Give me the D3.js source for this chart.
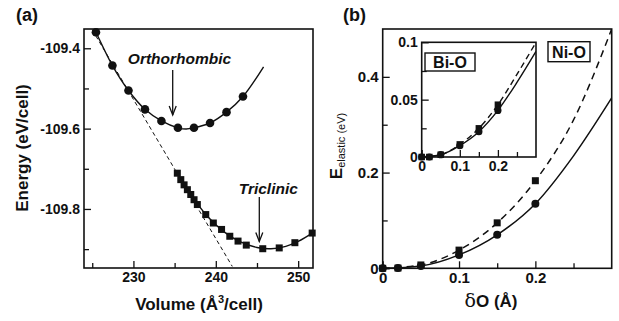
<!DOCTYPE html>
<html>
<head>
<meta charset="utf-8">
<script src="https://cdn.jsdelivr.net/npm/d3@7/dist/d3.min.js"></script>
<style>
body { margin: 0; background: #fff; }
svg text { font-family: "Liberation Sans", Arial, sans-serif; font-weight: bold; fill: #111; }
</style>
</head>
<body>
<script>
// panel (a): energy vs volume
var orthoV = [225.45, 227.45, 229.4, 231.4, 233.4, 235.4, 237.35, 239.3, 241.3, 243.3];
var orthoE = [-109.36, -109.443, -109.505, -109.552, -109.581, -109.598, -109.598, -109.586, -109.559, -109.52];
var orthoFitV = [225.3, 225.45, 227.45, 229.4, 231.4, 233.4, 235.4, 236.4, 237.35, 239.3, 241.3, 243.3, 245.8];
var orthoFitE = [-109.354, -109.36, -109.443, -109.505, -109.552, -109.581, -109.598, -109.601, -109.598, -109.586, -109.559, -109.52, -109.446];

var triV = [235.33, 235.75, 236.15, 236.55, 236.96, 237.36, 237.76, 238.78, 239.7, 240.7, 241.7, 242.7, 243.7, 245.7, 247.7, 249.6, 251.7];
var triE = [-109.711, -109.727, -109.740, -109.752, -109.764, -109.777, -109.789, -109.814, -109.835, -109.851, -109.868, -109.880, -109.890, -109.899, -109.897, -109.884, -109.860];
var triFitV = [235.33, 237, 239, 241, 243, 245, 246.7, 248.5, 250, 251.8];
var triFitE = [-109.711, -109.765, -109.819, -109.857, -109.882, -109.896, -109.899, -109.893, -109.881, -109.859];

var tangentV = [225.0, 242.0];
var tangentE = [-109.354, -109.943];

var volTicks = [230, 240, 250];
var volMinor = [225, 235, 245];
var enTicks = [-109.4, -109.6, -109.8];
var enMinor = [-109.5, -109.7, -109.9];

// panel (b): elastic energy vs oxygen displacement
var delta = [0, 0.02, 0.05, 0.1, 0.15, 0.2];
var niCircle = [0, 0.0005, 0.005, 0.028, 0.07, 0.135];
var niSquare = [0, 0.0005, 0.007, 0.038, 0.095, 0.183];
var biCircle = [0, 0, 0.002, 0.0099, 0.022, 0.0406];
var biSquare = [0, 0, 0.002, 0.011, 0.025, 0.0456];

var fitDelta = [0, 0.05, 0.1, 0.15, 0.2, 0.25, 0.3];
var niSolidFit = [0, 0.005, 0.028, 0.07, 0.135, 0.235, 0.356];
var niDashFit = [0, 0.007, 0.038, 0.095, 0.183, 0.31, 0.5];
var biSolidFit = [0, 0.002, 0.0099, 0.022, 0.0406, 0.065, 0.092];
var biDashFit = [0, 0.002, 0.011, 0.025, 0.0456, 0.072, 0.1];

var dTicks = [0, 0.1, 0.2];
var dMinor = [0.05, 0.15, 0.25];
var eTicks = [0, 0.2, 0.4];
var eMinor = [0.1, 0.3];
var insetYTicks = [0, 0.05, 0.1];
var insetYMinor = [0.025, 0.075];

var svg = d3.select("body").append("svg")
    .attr("width", 619)
    .attr("height", 321);

function zip(xs, ys) {
    return xs.map(function(x, i) { return [x, ys[i]]; });
}

// draws box + inward ticks, returns nothing
function frame(g, x, y, xt, xm, yt, ym, fx, fy, fs) {
    var x0 = x.range()[0], x1 = x.range()[1];
    var y0 = y.range()[0], y1 = y.range()[1];
    g.append("rect")
        .attr("x", x0).attr("y", y1)
        .attr("width", x1 - x0).attr("height", y0 - y1)
        .attr("fill", "#fff")
        .attr("stroke", "#111")
        .attr("stroke-width", 1.6);

    var ax = g.append("g").attr("transform", "translate(0," + y0 + ")")
        .call(d3.axisBottom(x).tickValues(xt).tickSize(-7).tickPadding(4).tickFormat(fx));
    g.append("g").attr("transform", "translate(0," + y0 + ")")
        .call(d3.axisBottom(x).tickValues(xm).tickSize(-5).tickFormat(""));
    var ay = g.append("g").attr("transform", "translate(" + x0 + ",0)")
        .call(d3.axisLeft(y).tickValues(yt).tickSize(-7).tickPadding(4).tickFormat(fy));
    g.append("g").attr("transform", "translate(" + x0 + ",0)")
        .call(d3.axisLeft(y).tickValues(ym).tickSize(-5).tickFormat(""));

    g.selectAll(".domain").remove();
    g.selectAll(".tick line").attr("stroke", "#111").attr("stroke-width", 1.3);
    ax.selectAll("text").attr("font-size", fs).attr("font-family", null).attr("fill", "#111");
    ay.selectAll("text").attr("font-size", fs).attr("font-family", null).attr("fill", "#111");
    return [ax, ay];
}

function arrow(g, cx, ytop, ybot) {
    g.append("line")
        .attr("x1", cx).attr("x2", cx)
        .attr("y1", ytop).attr("y2", ybot)
        .attr("stroke", "#111").attr("stroke-width", 1.3);
    g.append("path")
        .attr("d", "M" + (cx - 3.5) + "," + (ybot - 9) + "L" + cx + "," + ybot + "L" + (cx + 3.5) + "," + (ybot - 9))
        .attr("fill", "none").attr("stroke", "#111").attr("stroke-width", 1.3);
}

function circles(g, pts, x, y, r) {
    g.selectAll(null).data(pts).enter().append("circle")
        .attr("cx", function(d) { return x(d[0]); })
        .attr("cy", function(d) { return y(d[1]); })
        .attr("r", r)
        .attr("fill", "#111");
}

function squares(g, pts, x, y, s) {
    g.selectAll(null).data(pts).enter().append("rect")
        .attr("x", function(d) { return x(d[0]) - s / 2; })
        .attr("y", function(d) { return y(d[1]) - s / 2; })
        .attr("width", s).attr("height", s)
        .attr("fill", "#111");
}

// ---------- panel (a)
var xa = d3.scaleLinear().domain([224.0, 251.8]).range([84, 313]);
var ya = d3.scaleLinear().domain([-109.947, -109.352]).range([268, 29]);

var ga = svg.append("g");
frame(ga, xa, ya, volTicks, volMinor, enTicks, enMinor,
    function(d) { return d; },
    function(d) { return "-" + Math.abs(d).toFixed(1); }, "14px");

svg.append("clipPath").attr("id", "clipA").append("rect")
    .attr("x", 84).attr("y", 29).attr("width", 229).attr("height", 239);

var lineA = d3.line().x(function(d) { return xa(d[0]); }).y(function(d) { return ya(d[1]); });

ga.append("path")
    .attr("d", lineA(zip(tangentV, tangentE)))
    .attr("clip-path", "url(#clipA)")
    .attr("fill", "none").attr("stroke", "#111").attr("stroke-width", 1)
    .attr("stroke-dasharray", "4,3");

ga.append("path")
    .attr("d", lineA.curve(d3.curveCatmullRom)(zip(orthoFitV, orthoFitE)))
    .attr("clip-path", "url(#clipA)")
    .attr("fill", "none").attr("stroke", "#111").attr("stroke-width", 1.4);

ga.append("path")
    .attr("d", lineA.curve(d3.curveCatmullRom)(zip(triFitV, triFitE)))
    .attr("clip-path", "url(#clipA)")
    .attr("fill", "none").attr("stroke", "#111").attr("stroke-width", 1.4);

circles(ga, zip(orthoV, orthoE), xa, ya, 4.3);
squares(ga, zip(triV, triE), xa, ya, 7);

ga.append("text").attr("x", 179.5).attr("y", 63.5).attr("text-anchor", "middle")
    .attr("font-size", "15.5px").attr("font-style", "italic").text("Orthorhombic");
arrow(ga, 172.7, 70, 115);
ga.append("text").attr("x", 268.3).attr("y", 193.5).attr("text-anchor", "middle")
    .attr("font-size", "15.5px").attr("font-style", "italic").text("Triclinic");
arrow(ga, 259.3, 197, 241.5);

var vl = ga.append("text").attr("x", 199).attr("y", 310).attr("text-anchor", "middle")
    .attr("font-size", "17px");
vl.append("tspan").text("Volume (Å");
vl.append("tspan").attr("dy", -7).attr("font-size", "11px").text("3");
vl.append("tspan").attr("dy", 7).text("/cell)");

ga.append("text").attr("transform", "translate(28,148) rotate(-90)")
    .attr("text-anchor", "middle").attr("font-size", "17px").text("Energy (eV/cell)");

svg.append("text").attr("x", 16).attr("y", 21).attr("font-size", "18px").text("(a)");

// ---------- panel (b)
var xb = d3.scaleLinear().domain([0, 0.3]).range([382.7, 611.7]);
var yb = d3.scaleLinear().domain([0, 0.5]).range([268.3, 29]);

var gb = svg.append("g");
frame(gb, xb, yb, dTicks, dMinor, eTicks, eMinor,
    function(d) { return String(d); },
    function(d) { return String(d); }, "15px");

svg.append("clipPath").attr("id", "clipB").append("rect")
    .attr("x", 382.7).attr("y", 29).attr("width", 229).attr("height", 239.3);

var lineB = d3.line().curve(d3.curveMonotoneX)
    .x(function(d) { return xb(d[0]); }).y(function(d) { return yb(d[1]); });

gb.append("path")
    .attr("d", lineB(zip(fitDelta, niDashFit)))
    .attr("clip-path", "url(#clipB)")
    .attr("fill", "none").attr("stroke", "#111").attr("stroke-width", 1.5)
    .attr("stroke-dasharray", "7,5");
gb.append("path")
    .attr("d", lineB(zip(fitDelta, niSolidFit)))
    .attr("clip-path", "url(#clipB)")
    .attr("fill", "none").attr("stroke", "#111").attr("stroke-width", 1.5);

squares(gb, zip(delta, niSquare), xb, yb, 7);
circles(gb, zip(delta, niCircle), xb, yb, 4);

gb.append("rect").attr("x", 548).attr("y", 41.7).attr("width", 42).attr("height", 20)
    .attr("fill", "#fff").attr("stroke", "#111").attr("stroke-width", 1.4);
gb.append("text").attr("x", 569).attr("y", 57.5).attr("text-anchor", "middle")
    .attr("font-size", "16px").text("Ni-O");

var dl = gb.append("text").attr("x", 491).attr("y", 306.7).attr("text-anchor", "middle")
    .attr("font-size", "17px");
dl.append("tspan").attr("font-family", "'DejaVu Serif', 'Liberation Serif', serif")
    .attr("font-weight", "normal").attr("font-size", "19px").text("δ");
dl.append("tspan").text("O (Å)");

var el = gb.append("text").attr("transform", "translate(342,146) rotate(-90)")
    .attr("text-anchor", "middle");
el.append("tspan").attr("font-size", "17px").text("E");
el.append("tspan").attr("font-size", "11px").attr("font-weight", "normal").attr("dy", 3).text("elastic (eV)");

svg.append("text").attr("x", 343).attr("y", 21).attr("font-size", "18px").text("(b)");

// ---------- inset (Bi-O)
var xi = d3.scaleLinear().domain([0, 0.3]).range([421.7, 536]);
var yi = d3.scaleLinear().domain([0, 0.1]).range([157, 42.3]);

var gi = svg.append("g");
frame(gi, xi, yi, dTicks, dMinor, insetYTicks, insetYMinor,
    function(d) { return String(d); },
    function(d) { return String(d); }, "14px");

svg.append("clipPath").attr("id", "clipI").append("rect")
    .attr("x", 421.7).attr("y", 42.3).attr("width", 114.3).attr("height", 114.7);

var lineI = d3.line().curve(d3.curveMonotoneX)
    .x(function(d) { return xi(d[0]); }).y(function(d) { return yi(d[1]); });

gi.append("path")
    .attr("d", lineI(zip(fitDelta, biDashFit)))
    .attr("clip-path", "url(#clipI)")
    .attr("fill", "none").attr("stroke", "#111").attr("stroke-width", 1.4)
    .attr("stroke-dasharray", "6,4");
gi.append("path")
    .attr("d", lineI(zip(fitDelta, biSolidFit)))
    .attr("clip-path", "url(#clipI)")
    .attr("fill", "none").attr("stroke", "#111").attr("stroke-width", 1.4);

squares(gi, zip(delta, biSquare), xi, yi, 6.5);
circles(gi, zip(delta, biCircle), xi, yi, 3.6);

gi.append("rect").attr("x", 425).attr("y", 53).attr("width", 50).attr("height", 18)
    .attr("fill", "#fff").attr("stroke", "#111").attr("stroke-width", 1.4);
gi.append("text").attr("x", 450).attr("y", 68).attr("text-anchor", "middle")
    .attr("font-size", "16px").text("Bi-O");
</script>
</body>
</html>
